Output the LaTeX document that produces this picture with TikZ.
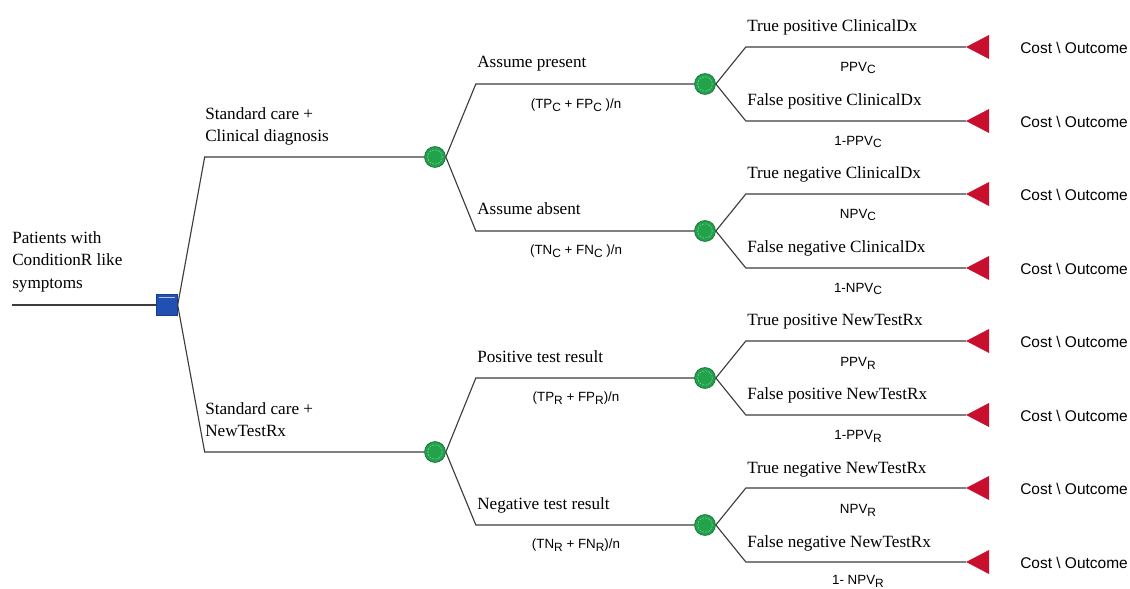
\documentclass[tikz,border=0pt]{standalone}
\usepackage{fontspec}
\setmainfont{Liberation Serif}
\setsansfont{Liberation Sans}
\usepackage{tikz}
\usetikzlibrary{positioning}
\usetikzlibrary{shapes.geometric}
\usetikzlibrary{calc}

\definecolor{decblue}{HTML}{2150B2}
\definecolor{decblueD}{HTML}{173D8E}
\definecolor{chgreen}{HTML}{22A34B}
\definecolor{chgreenD}{HTML}{17783A}
\definecolor{endred}{HTML}{C8102E}
\definecolor{linegray}{HTML}{3C3C3C}

\newcommand{\lowsub}[1]{\raisebox{-0.4ex}{\fontsize{8.5}{10}\selectfont #1}}

\tikzset{
  decision/.style={rectangle, draw=decblueD, fill=decblue, minimum size=0.52cm, inner sep=0pt,
                   path picture={\draw[white!65!decblue, line width=0.6pt]
                     ([xshift=1.5pt,yshift=-2pt]path picture bounding box.north west) --
                     ([xshift=-1.5pt,yshift=-2pt]path picture bounding box.north east);}},
  chance/.style={circle, draw=chgreenD, line width=0.6pt, fill=chgreen, minimum size=0.52cm, inner sep=0pt,
                 path picture={\draw[white!55!chgreen, dash pattern=on 1.2pt off 1pt, line width=0.3pt]
                   (path picture bounding box.center) circle (0.18cm);}},
  terminal/.style={isosceles triangle, shape border rotate=180, isosceles triangle stretches,
                   minimum width=0.575cm, minimum height=0.55cm, draw=endred, fill=endred, inner sep=0pt, anchor=apex},
  branch/.style={to path={-- ($(\tikztostart |- \tikztotarget)+(#1,0)$) -- (\tikztotarget)}},
  line/.style={draw=linegray, line width=0.8pt},
  lbl/.style={inner sep=0pt, font=\fontsize{12.2}{16}\selectfont, text=black},
  prob/.style={inner sep=0pt, font=\sffamily\fontsize{9.5}{11}\selectfont},
  payoff/.style={inner sep=0pt, anchor=west, font=\sffamily\fontsize{11}{13}\selectfont}
}

\begin{document}
\begin{tikzpicture}[x=0.025cm,y=-0.025cm]
        % \draw[help lines] (0,0) grid (1130,589);
      \useasboundingbox (0,0) rectangle (1130,589);

      % decision and chance nodes
      \node[decision]   (d_0)  at (167,305) {};
      \node[chance]     (c_1)  at (435,157) {};
      \node[chance]     (c_2)  at (435,452) {};
      \node[chance]     (c_11) at (705,84)  {};
      \node[chance]     (c_12) at (705,231) {};
      \node[chance]     (c_21) at (705,378) {};
      \node[chance]     (c_22) at (705,525) {};

      % end points
      \node[terminal]   (t_1) at (966,47)  {};
      \node[terminal]   (t_2) at (966,121) {};
      \node[terminal]   (t_3) at (966,194) {};
      \node[terminal]   (t_4) at (966,268) {};
      \node[terminal]   (t_5) at (966,341) {};
      \node[terminal]   (t_6) at (966,415) {};
      \node[terminal]   (t_7) at (966,488) {};
      \node[terminal]   (t_8) at (966,562) {};

      \coordinate (r_0) at (12,305);

      \path[line] (r_0)      edge                (d_0.west)
                  (d_0.east) edge [branch=27]    (c_1.west)
                  (d_0.east) edge [branch=27]    (c_2.west)
                  (c_1.east) edge [branch=30]    (c_11.west)
                  (c_1.east) edge [branch=30]    (c_12.west)
                  (c_2.east) edge [branch=30]    (c_21.west)
                  (c_2.east) edge [branch=30]    (c_22.west)
                  (c_11.east) edge [branch=30]   (t_1.apex)
                  (c_11.east) edge [branch=30]   (t_2.apex)
                  (c_12.east) edge [branch=30]   (t_3.apex)
                  (c_12.east) edge [branch=30]   (t_4.apex)
                  (c_21.east) edge [branch=30]   (t_5.apex)
                  (c_21.east) edge [branch=30]   (t_6.apex)
                  (c_22.east) edge [branch=30]   (t_7.apex)
                  (c_22.east) edge [branch=30]   (t_8.apex)
                  ;

      % branch names
      \node[lbl, align=left, anchor=north west] (n_0)  at (12,231)  {Patients with\\ConditionR like\\symptoms};
      \node[lbl, align=left, anchor=north west] (n_1)  at (205,107) {Standard care +\\Clinical diagnosis};
      \node[lbl, align=left, anchor=north west] (n_2)  at (205,402) {Standard care +\\NewTestRx};
      \node[lbl, anchor=base west] (n_11) at (477,68)  {Assume present};
      \node[lbl, anchor=base west] (n_12) at (477,215) {Assume absent};
      \node[lbl, anchor=base west] (n_21) at (477,362) {Positive test result};
      \node[lbl, anchor=base west] (n_22) at (477,509) {Negative test result};
      \node[lbl, anchor=base west] (n_t1) at (747,32)  {True positive ClinicalDx};
      \node[lbl, anchor=base west] (n_t2) at (747,106) {False positive ClinicalDx};
      \node[lbl, anchor=base west] (n_t3) at (747,179) {True negative ClinicalDx};
      \node[lbl, anchor=base west] (n_t4) at (747,253) {False negative ClinicalDx};
      \node[lbl, anchor=base west] (n_t5) at (747,326) {True positive NewTestRx};
      \node[lbl, anchor=base west] (n_t6) at (747,400) {False positive NewTestRx};
      \node[lbl, anchor=base west] (n_t7) at (747,473) {True negative NewTestRx};
      \node[lbl, anchor=base west] (n_t8) at (747,547) {False negative NewTestRx};

      % probabilities
      \node[prob] (p_11) at (576,105) {(TP\lowsub{C} + FP\lowsub{C} )/n};
      \node[prob] (p_12) at (576,251) {(TN\lowsub{C} + FN\lowsub{C} )/n};
      \node[prob] (p_21) at (576,398) {(TP\lowsub{R} + FP\lowsub{R})/n};
      \node[prob] (p_22) at (576,545) {(TN\lowsub{R} + FN\lowsub{R})/n};
      \node[prob] (p_t1) at (858,68)  {PPV\lowsub{C}};
      \node[prob] (p_t2) at (858,142) {1-PPV\lowsub{C}};
      \node[prob] (p_t3) at (858,215) {NPV\lowsub{C}};
      \node[prob] (p_t4) at (858,289) {1-NPV\lowsub{C}};
      \node[prob] (p_t5) at (858,363) {PPV\lowsub{R}};
      \node[prob] (p_t6) at (858,436) {1-PPV\lowsub{R}};
      \node[prob] (p_t7) at (858,510) {NPV\lowsub{R}};
      \node[prob] (p_t8) at (858,581) {1- NPV\lowsub{R}};

      % payoffs
      \node[payoff] (o_1) at (1020,48)  {Cost \textbackslash{} Outcome};
      \node[payoff] (o_2) at (1020,122) {Cost \textbackslash{} Outcome};
      \node[payoff] (o_3) at (1020,195) {Cost \textbackslash{} Outcome};
      \node[payoff] (o_4) at (1020,269) {Cost \textbackslash{} Outcome};
      \node[payoff] (o_5) at (1020,342) {Cost \textbackslash{} Outcome};
      \node[payoff] (o_6) at (1020,416) {Cost \textbackslash{} Outcome};
      \node[payoff] (o_7) at (1020,489) {Cost \textbackslash{} Outcome};
      \node[payoff] (o_8) at (1020,563) {Cost \textbackslash{} Outcome};
    \end{tikzpicture}
\end{document}
